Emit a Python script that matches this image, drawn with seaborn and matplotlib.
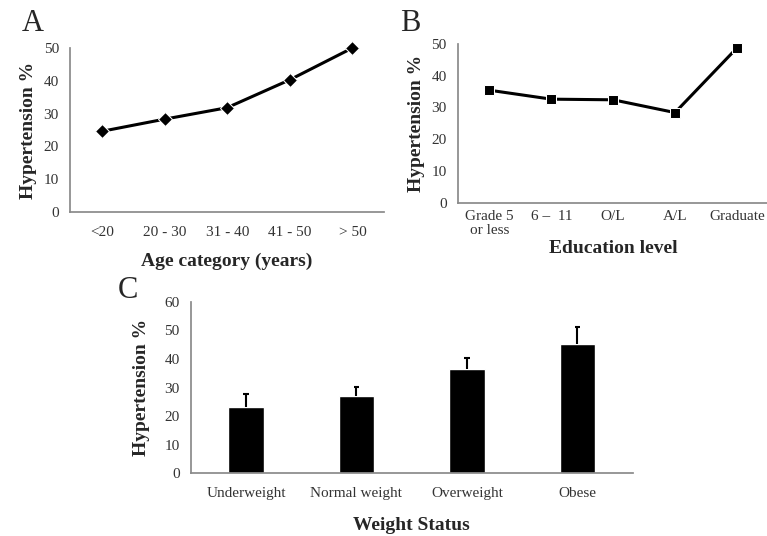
import numpy as np
import pandas as pd
import seaborn as sns
import matplotlib.pyplot as plt

# panel A - age
age_cats = ["<20", "20 - 30", "31 - 40", "41 - 50", "> 50"]
age_vals = [24.6, 28.3, 31.8, 40.3, 50.0]

# panel B - education
edu_cats = ["Grade 5\nor less", "6 \u2013  11", "O/L", "A/L", "Graduate"]
edu_vals = [35.4, 32.6, 32.4, 28.4, 48.6]

# panel C - weight status
wt_cats = ["Underweight", "Normal weight", "Overweight", "Obese"]
wt_vals = [23.3, 27.1, 36.6, 45.1]
wt_err = [4.4, 3.2, 3.8, 6.2]

sns.set_theme(style="white")
plt.rcParams['font.family'] = ['Liberation Serif', 'DejaVu Serif']
plt.rcParams['axes.edgecolor'] = '#8a8a8a'

fig = plt.figure(figsize=(7.67, 5.36), dpi=100)
axA = fig.add_axes([0.0913, 0.6045, 0.409, 0.306])
axB = fig.add_axes([0.597, 0.6207, 0.404, 0.298])
axC = fig.add_axes([0.2486, 0.117, 0.5763, 0.320])

lab_kw = dict(fontsize=14, fontweight='bold')

dfA = pd.DataFrame({"cat": age_cats, "val": age_vals})
sns.lineplot(data=dfA, x="cat", y="val", ax=axA, color='black', lw=2.2,
             marker='D', markersize=7, sort=False, clip_on=False)
axA.set_ylim(0, 50)
axA.set_yticks(range(0, 51, 10))
axA.set_xlim(-0.51, 4.5)
axA.set_xlabel("Age category (years)", labelpad=10, **lab_kw)
axA.set_ylabel("Hypertension %", labelpad=5, **lab_kw)
axA.tick_params(axis='x', pad=10)

dfB = pd.DataFrame({"cat": edu_cats, "val": edu_vals})
sns.lineplot(data=dfB, x="cat", y="val", ax=axB, color='black', lw=2.2,
             marker='s', markersize=7, sort=False, clip_on=False)
axB.set_ylim(0, 50)
axB.set_yticks(range(0, 51, 10))
axB.set_xlim(-0.51, 4.5)
axB.set_xlabel("Education level", labelpad=2, **lab_kw)
axB.set_ylabel("Hypertension %", labelpad=5, **lab_kw)
axB.tick_params(axis='x', pad=5)
for t in axB.get_xticklabels():
    t.set_linespacing(1.1)

dfC = pd.DataFrame({"cat": wt_cats, "val": wt_vals})
sns.barplot(data=dfC, x="cat", y="val", ax=axC, color='black', width=0.32,
            saturation=1)
# upper-only error bars, excel style
xs = np.arange(len(wt_cats))
tops = np.array(wt_vals) + np.array(wt_err)
axC.vlines(xs, wt_vals, tops, color='black', lw=1.5)
axC.hlines(tops, xs - 0.025, xs + 0.025, color='black', lw=1.5)
axC.set_ylim(0, 60)
axC.set_yticks(range(0, 61, 10))
axC.set_xlim(-0.5, 3.5)
axC.set_xlabel("Weight Status", labelpad=12, **lab_kw)
axC.set_ylabel("Hypertension %", labelpad=10, **lab_kw)
axC.tick_params(axis='x', pad=10)

for ax in (axA, axB, axC):
    ax.tick_params(labelsize=11, colors='#333333', length=0)
    ax.tick_params(axis='y', pad=8)
    sns.despine(ax=ax)

fig.text(0.028, 0.957, "A", fontsize=22, va='center', ha='left')
fig.text(0.522, 0.957, "B", fontsize=22, va='center', ha='left')
fig.text(0.153, 0.458, "C", fontsize=22, va='center', ha='left')

fig.savefig("out.png", dpi=100)
